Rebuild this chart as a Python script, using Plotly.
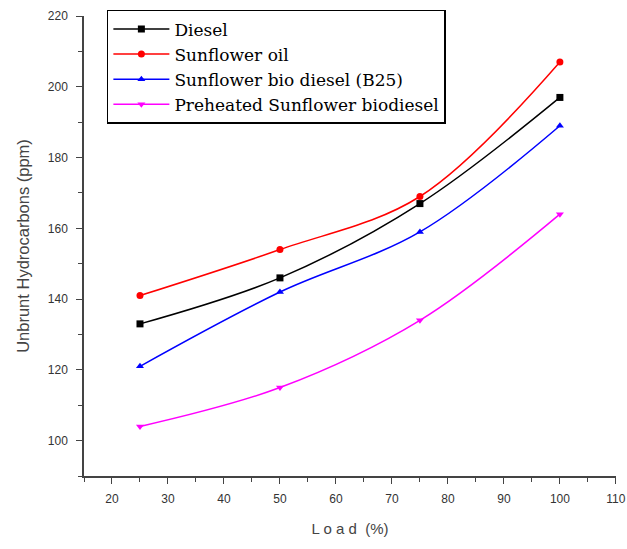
import plotly.graph_objects as go

load = [25, 50, 75, 100]
diesel = [133, 146, 167, 197]
sunflower_oil = [141, 154, 169, 207]
b25 = [121, 142, 159, 189]
preheated = [104, 115, 134, 164]

series = [
    ("Diesel", diesel, "black", "square"),
    ("Sunflower oil", sunflower_oil, "red", "circle"),
    ("Sunflower bio diesel (B25)", b25, "blue", "triangle-up"),
    ("Preheated Sunflower biodiesel", preheated, "magenta", "triangle-down"),
]

fig = go.Figure()
for name, vals, color, sym in series:
    fig.add_trace(go.Scatter(
        x=load, y=vals, name=name, mode="lines+markers",
        line=dict(color=color, width=1.5, shape="spline", smoothing=1.0),
        marker=dict(color=color, symbol=sym, size=7),
    ))

axis_common = dict(
    showline=True, linecolor="#444", linewidth=1.5, showgrid=False, zeroline=False,
    ticks="outside", ticklen=6, tickwidth=1.2, tickcolor="#444",
    tickfont=dict(family="Liberation Sans, Arial", size=12, color="#333"),
    mirror=False, automargin=False,
)

fig.update_layout(
    width=627, height=549,
    margin=dict(l=84, r=11, t=15, b=73),
    plot_bgcolor="white", paper_bgcolor="white",
    xaxis=dict(range=[15, 110.02], tickmode="linear", tick0=20, dtick=10,
               minor=dict(ticks="outside", ticklen=4, dtick=5, tick0=15, tickcolor="#444"),
               ticklabelstandoff=5,
               title=dict(text="L o a d  (%)", font=dict(family="Liberation Sans, Arial", size=15, color="#444"), standoff=18),
               **axis_common),
    yaxis=dict(range=[90, 220.02], tickmode="linear", tick0=100, dtick=20,
               minor=dict(ticks="outside", ticklen=4, dtick=10, tick0=90, tickcolor="#444"),
               ticklabelstandoff=6,
               title=dict(text="Unbrunt Hydrocarbons (ppm)", font=dict(family="Liberation Sans, Arial", size=16.5, color="#444"), standoff=14),
               **axis_common),
    legend=dict(x=0.043, y=1.011, xanchor="left", yanchor="top",
                bgcolor="white", bordercolor="black", borderwidth=1.5,
                font=dict(family="DejaVu Serif", size=17, color="black"),
                itemwidth=56, tracegroupgap=0),
    showlegend=True,
)

fig.write_html("out.html")
